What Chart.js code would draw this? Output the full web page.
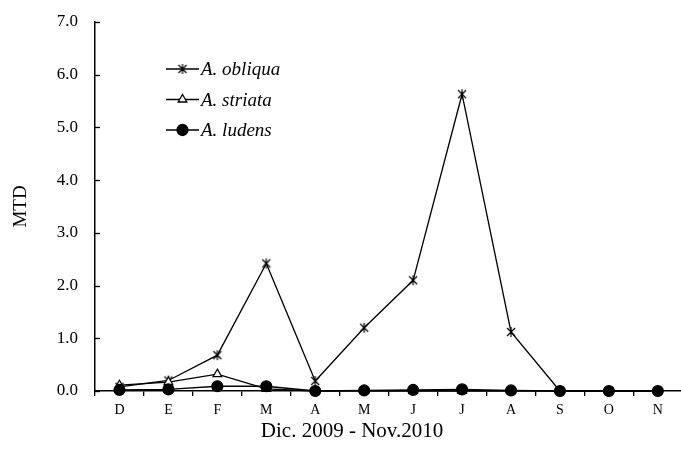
<!DOCTYPE html>
<html>
<head>
<meta charset="utf-8">
<script src="https://cdn.jsdelivr.net/npm/chart.js@4.4.1/dist/chart.umd.min.js"></script>
<style>
  html, body { margin: 0; padding: 0; background: #fff; overflow: hidden; }
  #wrap { width: 689px; height: 466px; }
</style>
</head>
<body>
<div id="wrap"><canvas id="mtdChart" width="689" height="466"></canvas></div>
<script>
// Data (Dic. 2009 - Nov. 2010)
const months = ["D", "E", "F", "M", "A", "M", "J", "J", "A", "S", "O", "N"];
const obliqua = [0.08, 0.20, 0.68, 2.42, 0.19, 1.20, 2.10, 5.63, 1.12, 0.00, 0.00, 0.00];
const striata = [0.11, 0.17, 0.32, 0.04, 0.00, 0.00, 0.00, 0.00, 0.00, 0.00, 0.00, 0.00];
const ludens  = [0.02, 0.03, 0.09, 0.09, 0.00, 0.01, 0.02, 0.03, 0.01, 0.00, 0.00, 0.00];
const yTicks = [0, 1, 2, 3, 4, 5, 6, 7];
const xTitle = "Dic. 2009 - Nov.2010";

const SERIF = "'Liberation Serif', 'Times New Roman', serif";

// asterisk marker: an x with a vertical bar
function starMarker() {
  const c = document.createElement("canvas");
  c.width = 12; c.height = 12;
  const g = c.getContext("2d");
  g.strokeStyle = "#000";
  g.lineWidth = 1.2;
  g.beginPath();
  g.moveTo(2, 2); g.lineTo(10, 10);
  g.moveTo(10, 2); g.lineTo(2, 10);
  g.moveTo(6, 1); g.lineTo(6, 11);
  g.stroke();
  return c;
}
const star = starMarker();

const legendItems = [
  { label: "A. obliqua", style: star, radius: 5, fill: "#000" },
  { label: "A. striata", style: "triangle", radius: 5, fill: "#fff" },
  { label: "A. ludens", style: "circle", radius: 5.5, fill: "#000" }
];

// legend drawn inside the plot, top-left
const insideLegend = {
  id: "insideLegend",
  afterDraw(chart) {
    const ctx = chart.ctx;
    ctx.save();
    legendItems.forEach((it, i) => {
      const y = 69 + i * 30.5;
      ctx.strokeStyle = "#000";
      ctx.lineWidth = 1.3;
      ctx.beginPath();
      ctx.moveTo(166, y); ctx.lineTo(199, y);
      ctx.stroke();
      ctx.fillStyle = it.fill;
      Chart.helpers.drawPoint(ctx, { pointStyle: it.style, radius: it.radius, borderWidth: 1.2 }, 182.5, y);
      ctx.fillStyle = "#000";
      ctx.font = "italic 19px " + SERIF;
      ctx.textBaseline = "middle";
      ctx.fillText(it.label, 201, y + 1);
    });
    ctx.restore();
  }
};

// short inward ticks on the y axis
const yInnerTicks = {
  id: "yInnerTicks",
  afterDatasetsDraw(chart) {
    const ctx = chart.ctx;
    const y = chart.scales.y;
    const x0 = chart.chartArea.left;
    ctx.save();
    ctx.strokeStyle = "#000";
    ctx.lineWidth = 1.3;
    yTicks.forEach(v => {
      const py = Math.round(y.getPixelForValue(v)) + 0.5;
      ctx.beginPath();
      ctx.moveTo(x0, py); ctx.lineTo(x0 + 5, py);
      ctx.stroke();
    });
    ctx.restore();
  }
};

// x axis title, centred like the original figure
const xAxisTitle = {
  id: "xAxisTitle",
  afterDraw(chart) {
    const ctx = chart.ctx;
    ctx.save();
    ctx.fillStyle = "#000";
    ctx.font = "21px " + SERIF;
    ctx.textAlign = "center";
    ctx.textBaseline = "middle";
    ctx.fillText(xTitle, 352, 431);
    ctx.restore();
  }
};

function series(label, data, style, radius, bg, order) {
  return {
    label: label,
    data: data,
    borderColor: "#000",
    borderWidth: 1.3,
    pointStyle: style,
    pointRadius: radius,
    pointBackgroundColor: bg,
    pointBorderColor: "#000",
    pointBorderWidth: 1.2,
    tension: 0,
    clip: false,
    order: order
  };
}

const ctx = document.getElementById("mtdChart").getContext("2d");
new Chart(ctx, {
  type: "line",
  data: {
    labels: months,
    datasets: [
      series("A. obliqua", obliqua, star, 5, "#000", 3),
      series("A. striata", striata, "triangle", 5, "#fff", 2),
      series("A. ludens", ludens, "circle", 5.5, "#000", 1)
    ]
  },
  options: {
    responsive: false,
    animation: false,
    layout: { padding: { top: 22, right: 0, bottom: 22, left: 0 } },
    plugins: {
      legend: { display: false },
      tooltip: { enabled: false }
    },
    scales: {
      x: {
        offset: true,
        afterFit(scale) { scale.height = 53; },
        grid: {
          offset: true,
          drawOnChartArea: false,
          drawTicks: true,
          tickLength: 5,
          color: "#000",
          lineWidth: 1.3
        },
        border: { color: "#000", width: 1.5 },
        ticks: {
          color: "#000",
          font: { family: SERIF, size: 14 },
          padding: 6,
          maxRotation: 0,
          autoSkip: false
        }
      },
      y: {
        min: 0,
        max: 7,
        afterFit(scale) { scale.width = 95; },
        afterBuildTicks(scale) { scale.ticks = yTicks.map(v => ({ value: v })); },
        // outer ticks kept invisible: they only space the labels from the axis
        grid: {
          drawOnChartArea: false,
          drawTicks: true,
          tickLength: 17,
          color: "rgba(0,0,0,0)"
        },
        border: { color: "#000", width: 1.5 },
        ticks: {
          color: "#000",
          font: { family: SERIF, size: 17 },
          padding: 0,
          callback: v => v.toFixed(1)
        },
        title: {
          display: true,
          text: "MTD",
          color: "#000",
          font: { family: SERIF, size: 19 },
          padding: { top: 10, bottom: 0 }
        }
      }
    }
  },
  plugins: [insideLegend, yInnerTicks, xAxisTitle]
});
</script>
</body>
</html>
